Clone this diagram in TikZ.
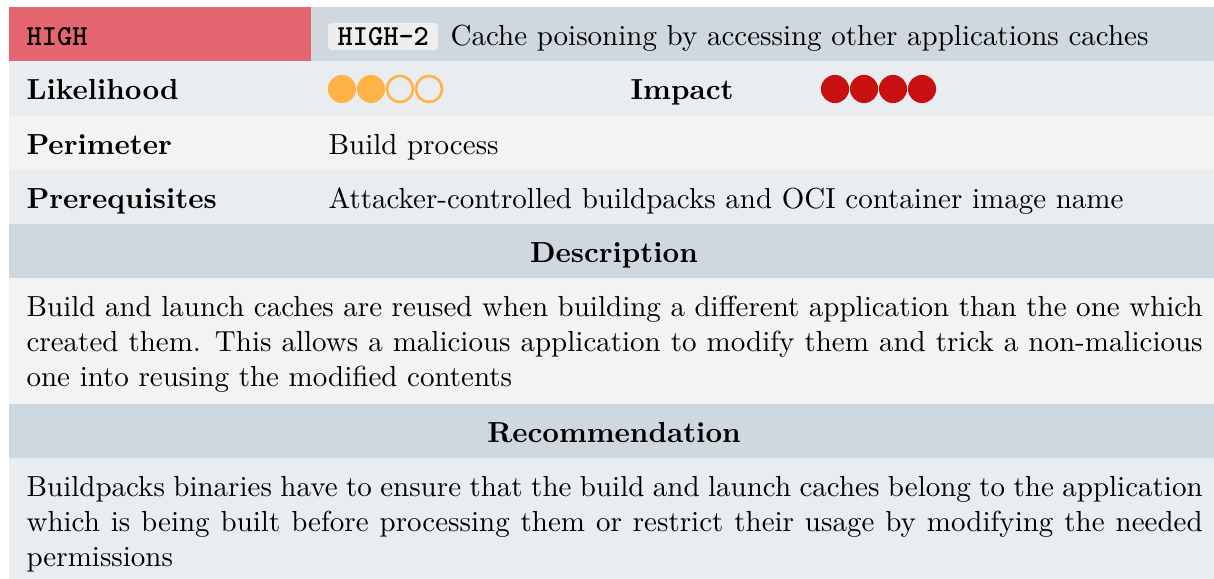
\documentclass[tikz,border=0pt]{standalone}
\usepackage{fontspec}
\definecolor{hired}{HTML}{E56670}
\definecolor{hdgray}{HTML}{CFD8DE}
\definecolor{rowblue}{HTML}{E9EDF0}
\definecolor{rowgray}{HTML}{F3F3F3}
\definecolor{tagbg}{HTML}{EEEEEE}
\definecolor{dotorange}{HTML}{FFB347}
\definecolor{dotred}{HTML}{C81010}
\tikzset{
  lbl/.style={anchor=base west, inner sep=0pt, font=\bfseries},
  val/.style={anchor=base west, inner sep=0pt},
  para/.style={anchor=base west, inner sep=0pt, text width=405.4pt, align=justify},
  head/.style={anchor=base, inner sep=0pt, font=\bfseries},
  fulldot/.style={circle, inner sep=0pt, minimum size=9.7pt},
  emptydot/.style={circle, inner sep=0pt, minimum size=9.0pt, draw=dotorange, line width=0.9pt},
}
\begin{document}
\begin{tikzpicture}[x=0.3447pt, y=-0.3447pt]
\useasboundingbox (0,0) rectangle (1214,579);
% backgrounds
\fill[hired] (9,7) rectangle (311,61);
\fill[hdgray] (311,7) rectangle (1219,61);
\fill[rowblue] (9,61) rectangle (1219,116);
\fill[rowgray] (9,116) rectangle (1219,170);
\fill[rowblue] (9,170) rectangle (1219,224);
\fill[hdgray] (9,224) rectangle (1219,278);
\fill[rowgray] (9,278) rectangle (1219,404);
\fill[hdgray] (9,404) rectangle (1219,458);
\fill[rowblue] (9,458) rectangle (1219,584);
% header
\node[val, font=\ttfamily\bfseries] (sev) at (26,46) {HIGH};
\fill[tagbg, rounded corners=1.2pt] (328,23) rectangle (438,50);
\node[val, font=\ttfamily\bfseries] (tag) at (337,46) {HIGH-2};
\node[val] (title) at (450,46) {Cache poisoning by accessing other applications caches};
% likelihood / impact
\node[lbl] (like) at (26,100) {Likelihood};
\node[fulldot, fill=dotorange] (l1) at (342,89) {};
\node[fulldot, fill=dotorange] (l2) at (371,89) {};
\node[emptydot] (l3) at (400,89) {};
\node[emptydot] (l4) at (429,89) {};
\node[lbl] (imp) at (630,100) {Impact};
\node[fulldot, fill=dotred] (i1) at (835,89) {};
\node[fulldot, fill=dotred] (i2) at (864,89) {};
\node[fulldot, fill=dotred] (i3) at (893,89) {};
\node[fulldot, fill=dotred] (i4) at (922,89) {};
% perimeter / prerequisites
\node[lbl] (per) at (26,155) {Perimeter};
\node[val] (perv) at (328,155) {Build process};
\node[lbl] (pre) at (26,209) {Prerequisites};
\node[val] (prev) at (328,209) {Attacker-controlled buildpacks and OCI container image name};
% description
\node[head] (desch) at (614,263) {Description};
\node[para] (desc) at (26,317) {Build and launch caches are reused when building a different application than the one which\linebreak created them. This allows a malicious application to modify them and trick a non-malicious\linebreak one into reusing the modified contents};
% recommendation
\node[head] (rech) at (614,443) {Recommendation};
\node[para] (rec) at (26,497) {Buildpacks binaries have to ensure that the build and launch caches belong to the application\linebreak which is being built before processing them or restrict their usage by modifying the needed\linebreak permissions};
\end{tikzpicture}
\end{document}
